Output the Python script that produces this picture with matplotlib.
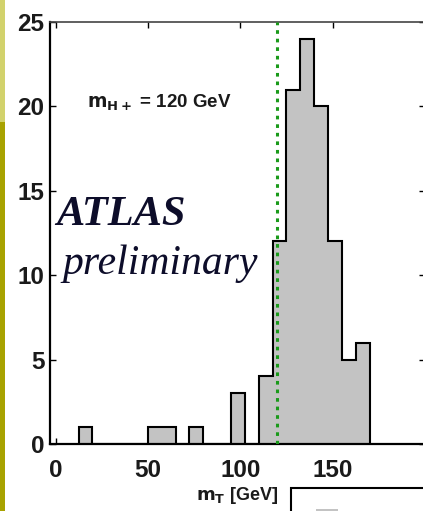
import matplotlib
matplotlib.use("Agg")
import matplotlib.pyplot as plt
from matplotlib.patches import Rectangle

# ---- data ----
bin_edges = [12.5, 20, 27.5, 35, 42.5, 50, 57.5, 65, 72.5, 80, 87.5, 95,
             102.5, 110, 117.5, 125, 132.5, 140, 147.5, 155, 162.5, 170]
counts = [1, 0, 0, 0, 0, 1, 1, 0, 1, 0, 0, 3, 0, 4, 12, 21, 24, 20, 12, 5, 6]
mass_line = 120
x_ticks = [0, 50, 100, 150, 200]
y_ticks = [0, 5, 10, 15, 20, 25]

W, H = 423, 511
fig = plt.figure(figsize=(W / 100, H / 100), dpi=100)
fig.patch.set_facecolor("white")

# left decorative stripe
fig.patches.append(Rectangle((0, 1 - 122 / H), 5 / W, 122 / H, transform=fig.transFigure,
                             facecolor="#d2d26c", edgecolor="none", zorder=0))
fig.patches.append(Rectangle((0, 0), 5 / W, 1 - 122 / H, transform=fig.transFigure,
                             facecolor="#a8a200", edgecolor="none", zorder=0))

ax = fig.add_axes([50 / W, (H - 444) / H, (425 - 50) / W, (444 - 22) / H])
ax.set_facecolor("white")

ax.stairs(counts, bin_edges, fill=True, facecolor="#c3c3c3", edgecolor="none", zorder=2)
ax.stairs(counts, bin_edges, baseline=0, color="black", linewidth=1.5, zorder=3)

ax.axvline(mass_line, color="#1a9a1a", linestyle=(0, (1.2, 1.6)), linewidth=2.2, zorder=4)

ax.set_xlim(-3, 200)
ax.set_ylim(0, 25)
ax.set_xticks(x_ticks)
ax.set_yticks(y_ticks)
ax.set_xticklabels(["0", "50", "100", "150", ""])
ax.tick_params(direction="in", length=4, width=1, top=True, right=True,
               labelsize=17.5, pad=4)
ax.tick_params(axis="x", pad=11)
for lab in ax.get_xticklabels() + ax.get_yticklabels():
    lab.set_fontfamily("Liberation Sans")
    lab.set_fontweight("bold")
    lab.set_color("#1a1a1a")

for s in ["left", "bottom"]:
    ax.spines[s].set_linewidth(1.6)
for s in ["top", "right"]:
    ax.spines[s].set_linewidth(1.2)
    ax.spines[s].set_color("#444444")

ax.text(17, 20.2, r"$\mathbf{m_{H+}}$ = 120 GeV", fontsize=13.5, fontweight="bold",
        family="Liberation Sans", color="#1a1a1a", va="center", ha="left")
ax.text(0.5, 13.0, "ATLAS", fontsize=30.5, fontweight="bold", fontstyle="italic",
        family="Liberation Serif", color="#0d0d2a", ha="left", va="baseline")
ax.text(4, 10.1, "preliminary", fontsize=30, fontstyle="italic",
        family="Liberation Serif", color="#0d0d2a", ha="left", va="baseline")

fig.text(237 / W, 1 - 495 / H, r"$\mathbf{m_T}$ [GeV]", fontsize=13, fontweight="bold",
         family="Liberation Sans", color="#1a1a1a", ha="center", va="center")

# partially visible legend box
fig.patches.append(Rectangle((291 / W, 1 - 520 / H), 140 / W, 32 / H, transform=fig.transFigure,
                             facecolor="white", edgecolor="black", linewidth=1.5, zorder=5))
fig.patches.append(Rectangle((316 / W, 1 - 515 / H), 22 / W, 6 / H, transform=fig.transFigure,
                             facecolor="#c3c3c3", edgecolor="none", zorder=6))

fig.savefig("out.png", dpi=100)
